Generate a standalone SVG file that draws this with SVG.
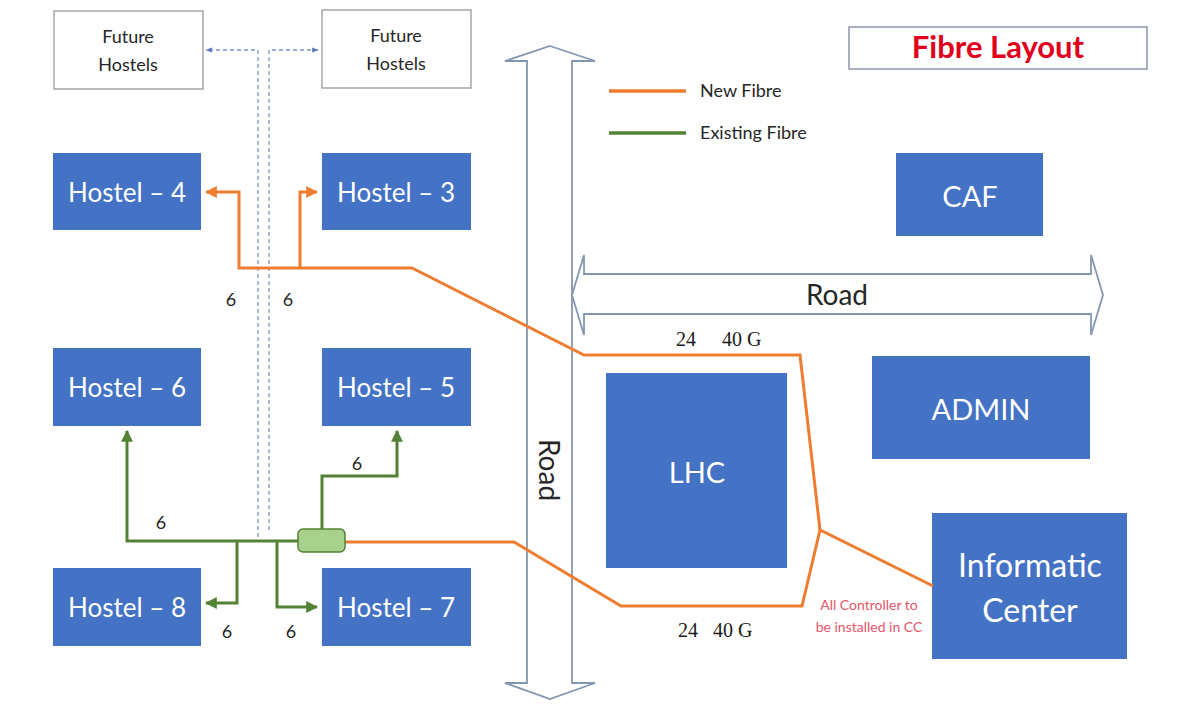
<svg xmlns="http://www.w3.org/2000/svg" width="1177" height="707" viewBox="0 0 1177 707">
<style>
.blue{fill:#4472c4;}
.wt{fill:#fff;font-family:Lato,"Open Sans",sans-serif;text-anchor:middle;}
.dk{fill:#262626;font-family:Lato,"Open Sans",sans-serif;}
.fb{fill:#fff;stroke:#a6a6a6;stroke-width:1.5;}
.road{fill:#fff;stroke:#8497b0;stroke-width:1.8;stroke-linejoin:miter;}
.or{fill:none;stroke:#ed7d31;stroke-width:3;stroke-linejoin:miter;}
.gr{fill:none;stroke:#548235;stroke-width:3;stroke-linejoin:miter;}
.ds{fill:none;stroke:#7f93c2;stroke-width:1.3;stroke-dasharray:4 3;}
.num{fill:#262626;font-family:Lato,"Open Sans",sans-serif;font-size:18px;text-anchor:middle;}
.ser{fill:#1a1a1a;font-family:"Liberation Serif",serif;font-size:20px;}
</style>
<defs>
<marker id="ao" viewBox="0 0 10 10" refX="9" refY="5" markerWidth="4" markerHeight="4" orient="auto" markerUnits="strokeWidth"><path d="M0,0 L10,5 L0,10 z" fill="#ed7d31"/></marker>
<marker id="ag" viewBox="0 0 10 10" refX="9" refY="5" markerWidth="4" markerHeight="4" orient="auto" markerUnits="strokeWidth"><path d="M0,0 L10,5 L0,10 z" fill="#548235"/></marker>
<marker id="ab" viewBox="0 0 10 10" refX="9" refY="5" markerWidth="5" markerHeight="5" orient="auto" markerUnits="strokeWidth"><path d="M0,1 L10,5 L0,9 z" fill="#5b7bc0"/></marker>
</defs>
<rect width="1177" height="707" fill="#fff"/>

<g id="road-vertical">
<path class="road" d="M550,46 L595,61 L572,61 L572,683 L595,683 L550,699 L505,683 L527,683 L527,61 L505,61 Z"/>
<text transform="translate(539,470) rotate(90)" class="dk" font-size="28" text-anchor="middle">Road</text>
</g>
<g id="road-horizontal">
<path class="road" d="M572,295 L584,255 L584,274 L1091,274 L1091,255 L1103,295 L1091,335 L1091,314 L584,314 L584,335 Z"/>
<text x="837" y="305" class="dk" font-size="28" text-anchor="middle">Road</text>
</g>

<g id="title">
<rect x="849" y="27" width="298" height="42" fill="#fff" stroke="#8c96a8" stroke-width="1.5"/>
<text x="998" y="58" font-family="Lato,'Open Sans',sans-serif" font-weight="bold" font-size="31" fill="#e0001b" text-anchor="middle">Fibre Layout</text>
</g>

<g id="legend">
<line x1="609" y1="91" x2="686" y2="91" stroke="#ed7d31" stroke-width="3.5"/>
<text x="700" y="97" class="dk" font-size="18">New Fibre</text>
<line x1="609" y1="133" x2="686" y2="133" stroke="#548235" stroke-width="3.5"/>
<text x="700" y="139" class="dk" font-size="18">Existing Fibre</text>
</g>

<g id="future-hostels-left">
<rect class="fb" x="54" y="11" width="149" height="78"/>
<text x="128" y="43" class="dk" font-size="18" text-anchor="middle">Future</text>
<text x="128" y="71" class="dk" font-size="18" text-anchor="middle">Hostels</text>
</g>
<g id="future-hostels-right">
<rect class="fb" x="322" y="10" width="149" height="78"/>
<text x="396" y="42" class="dk" font-size="18" text-anchor="middle">Future</text>
<text x="396" y="70" class="dk" font-size="18" text-anchor="middle">Hostels</text>
</g>

<g id="hostel-4"><rect class="blue" x="53" y="153" width="148" height="77"/><text x="127" y="202" class="wt" font-size="26">Hostel – 4</text></g>
<g id="hostel-3"><rect class="blue" x="322" y="153" width="149" height="77"/><text x="396" y="202" class="wt" font-size="26">Hostel – 3</text></g>
<g id="hostel-6"><rect class="blue" x="53" y="348" width="148" height="78"/><text x="127" y="397" class="wt" font-size="26">Hostel – 6</text></g>
<g id="hostel-5"><rect class="blue" x="322" y="348" width="149" height="78"/><text x="396" y="397" class="wt" font-size="26">Hostel – 5</text></g>
<g id="hostel-8"><rect class="blue" x="53" y="568" width="148" height="78"/><text x="127" y="617" class="wt" font-size="26">Hostel – 8</text></g>
<g id="hostel-7"><rect class="blue" x="322" y="568" width="149" height="78"/><text x="396" y="617" class="wt" font-size="26">Hostel – 7</text></g>
<g id="caf"><rect class="blue" x="896" y="153" width="147" height="83"/><text x="970" y="207" class="wt" font-size="29">CAF</text></g>
<g id="admin"><rect class="blue" x="872" y="356" width="218" height="103"/><text x="981" y="420" class="wt" font-size="29">ADMIN</text></g>
<g id="lhc"><rect class="blue" x="606" y="373" width="181" height="195"/><text x="697" y="483" class="wt" font-size="29">LHC</text></g>
<g id="informatic-center"><rect class="blue" x="932" y="513" width="195" height="146"/>
<text x="1030" y="577" class="wt" font-size="32">Informatic</text>
<text x="1030" y="622" class="wt" font-size="32">Center</text></g>

<g id="connectors">
<polyline class="ds" points="258,537 258,50 206,50" marker-end="url(#ab)"/>
<polyline class="ds" points="269,530 269,50 318,50" marker-end="url(#ab)"/>
<polyline class="or" points="820,530 800,355 584,355 412,268 239,268 239,192 206,192" marker-end="url(#ao)"/>
<polyline class="or" points="300,268 300,192 317,192" marker-end="url(#ao)"/>
<polyline class="or" points="345,542 514,542 621,606 802,606 820,530 933,586"/>
<polyline class="gr" points="298,541 127,541 127,431" marker-end="url(#ag)"/>
<polyline class="gr" points="237,541 237,603 206,603" marker-end="url(#ag)"/>
<polyline class="gr" points="277,541 277,607 317,607" marker-end="url(#ag)"/>
<polyline class="gr" points="322,529 322,476 397,476 397,431" marker-end="url(#ag)"/>
</g>

<g id="splice">
<rect x="298" y="529" width="47" height="23" rx="5" fill="#a9d18e" stroke="#548235" stroke-width="1.5"/>
</g>

<g id="labels">
<text x="231" y="306" class="num">6</text>
<text x="288" y="306" class="num">6</text>
<text x="161" y="529" class="num">6</text>
<text x="357" y="470" class="num">6</text>
<text x="227" y="638" class="num">6</text>
<text x="291" y="638" class="num">6</text>
<text x="676" y="346" class="ser">24</text>
<text x="722" y="346" class="ser">40 G</text>
<text x="678" y="637" class="ser">24</text>
<text x="713" y="637" class="ser">40 G</text>
<text x="869" y="610" font-family="Lato,'Open Sans',sans-serif" font-size="14" fill="#e8546a" text-anchor="middle">All Controller to</text>
<text x="869" y="632" font-family="Lato,'Open Sans',sans-serif" font-size="14" fill="#e8546a" text-anchor="middle">be installed in CC</text>
</g>
</svg>
